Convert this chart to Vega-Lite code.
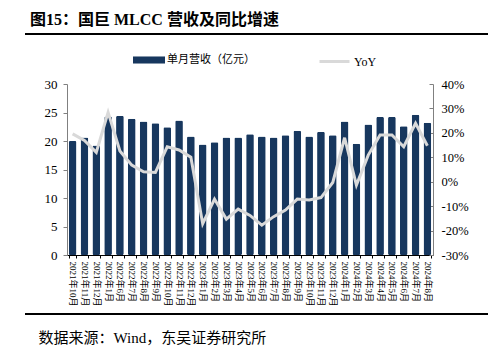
{
  "$schema": "https://vega.github.io/schema/vega-lite/v6.json",
  "width": 463,
  "height": 280,
  "autosize": {"type": "none"},
  "padding": {"left": 25, "top": 34, "right": 0, "bottom": 35},
  "background": "white",
  "title": {
    "text": "图15：国巨 MLCC 营收及同比增速",
    "anchor": "start",
    "dx": 10,
    "offset": 5,
    "font": "'Liberation Serif', 'Noto Sans CJK SC'",
    "fontSize": 16,
    "fontWeight": "bold",
    "color": "#000000"
  },
  "config": {
    "view": {"stroke": null},
    "axis": {"grid": false}
  },
  "data": {
    "values": [
      {"month": "2021年10月", "revenue": 20.0, "yoy": 19.6},
      {"month": "2021年11月", "revenue": 20.6, "yoy": 16.9},
      {"month": "2021年12月", "revenue": 19.2, "yoy": 12.0},
      {"month": "2022年1月", "revenue": 24.3, "yoy": 28.4},
      {"month": "2022年6月", "revenue": 24.4, "yoy": 12.6},
      {"month": "2022年7月", "revenue": 23.9, "yoy": 6.8},
      {"month": "2022年8月", "revenue": 23.4, "yoy": 4.1},
      {"month": "2022年9月", "revenue": 23.1, "yoy": 3.8},
      {"month": "2022年10月", "revenue": 22.4, "yoy": 14.3},
      {"month": "2022年11月", "revenue": 23.6, "yoy": 13.0},
      {"month": "2022年12月", "revenue": 20.8, "yoy": 10.0},
      {"month": "2023年1月", "revenue": 19.4, "yoy": -17.2},
      {"month": "2023年2月", "revenue": 19.8, "yoy": -7.1},
      {"month": "2023年3月", "revenue": 20.6, "yoy": -15.3},
      {"month": "2023年4月", "revenue": 20.6, "yoy": -11.2},
      {"month": "2023年5月", "revenue": 21.2, "yoy": -13.8},
      {"month": "2023年6月", "revenue": 20.8, "yoy": -17.8},
      {"month": "2023年7月", "revenue": 20.6, "yoy": -14.3},
      {"month": "2023年8月", "revenue": 21.0, "yoy": -11.6},
      {"month": "2023年9月", "revenue": 21.8, "yoy": -7.1},
      {"month": "2023年10月", "revenue": 20.8, "yoy": -7.5},
      {"month": "2023年11月", "revenue": 21.6, "yoy": -6.5},
      {"month": "2023年12月", "revenue": 21.0, "yoy": -0.3},
      {"month": "2024年1月", "revenue": 23.4, "yoy": 18.0},
      {"month": "2024年2月", "revenue": 19.5, "yoy": -1.4},
      {"month": "2024年3月", "revenue": 22.9, "yoy": 10.9},
      {"month": "2024年4月", "revenue": 24.2, "yoy": 19.1},
      {"month": "2024年5月", "revenue": 24.2, "yoy": 19.1},
      {"month": "2024年6月", "revenue": 22.6, "yoy": 14.3},
      {"month": "2024年7月", "revenue": 24.6, "yoy": 23.9},
      {"month": "2024年8月", "revenue": 23.2, "yoy": 14.7}
    ]
  },
  "layer": [
    {
      "mark": {"type": "bar", "cornerRadius": 1.5},
      "encoding": {
        "x": {
          "field": "month",
          "type": "ordinal",
          "sort": null,
          "scale": {"range": [42, 408], "paddingInner": 0.35, "paddingOuter": 0.15},
          "axis": {
            "orient": "bottom",
            "offset": -59,
            "title": "数据来源：Wind，东吴证券研究所",
            "titleX": 13,
            "titleY": 82,
            "titleAlign": "left",
            "titleBaseline": "middle",
            "titleFont": "'Liberation Serif', 'Noto Sans CJK SC'",
            "titleFontSize": 15,
            "titleFontWeight": "normal",
            "titleColor": "#000000",
            "labelAngle": 90,
            "labelFont": "'Liberation Serif', 'Noto Sans CJK SC'",
            "labelFontSize": 9,
            "labelPadding": 3,
            "labelColor": "#000000",
            "labelOverlap": false,
            "domainColor": "#000000",
            "domainWidth": 1,
            "tickColor": "#000000",
            "tickSize": 3,
            "tickBand": "extent"
          }
        },
        "y": {
          "field": "revenue",
          "type": "quantitative",
          "scale": {"domain": [0, 30], "range": [221, 50], "nice": false},
          "axis": {
            "orient": "left",
            "offset": -42,
            "values": [0, 5, 10, 15, 20, 25, 30],
            "title": null,
            "labelFont": "'Liberation Serif'",
            "labelFontSize": 13,
            "labelColor": "#000000",
            "labelPadding": 6,
            "tickSize": 4,
            "tickColor": "#808080",
            "domainColor": "#808080"
          }
        },
        "color": {
          "datum": "单月营收（亿元）",
          "scale": {"range": ["#17375e"]},
          "legend": {
            "orient": "none",
            "legendX": 108,
            "legendY": 10,
            "title": null,
            "padding": 0,
            "symbolType": "M-1,-0.22L1,-0.22L1,0.22L-1,0.22Z",
            "symbolSize": 1024,
            "symbolStrokeWidth": 0,
            "labelFont": "'Noto Sans CJK SC'",
            "labelFontSize": 11,
            "labelOffset": 2,
            "labelColor": "#000000"
          }
        }
      }
    },
    {
      "mark": {"type": "line", "strokeWidth": 3},
      "encoding": {
        "x": {"field": "month", "type": "ordinal", "sort": null},
        "y": {
          "field": "yoy",
          "type": "quantitative",
          "scale": {"domain": [-30, 40], "range": [221, 50], "nice": false},
          "axis": {
            "orient": "right",
            "offset": -55,
            "values": [-30, -20, -10, 0, 10, 20, 30, 40],
            "labelExpr": "datum.value + '%'",
            "title": null,
            "labelFont": "'Liberation Serif'",
            "labelFontSize": 12.5,
            "labelColor": "#000000",
            "labelPadding": 12,
            "tickSize": -4,
            "tickColor": "#808080",
            "domainColor": "#808080"
          }
        },
        "stroke": {
          "datum": "YoY",
          "scale": {"range": ["#d9d9d9"]},
          "legend": {
            "orient": "none",
            "legendX": 293,
            "legendY": 11,
            "title": null,
            "padding": 0,
            "symbolType": "M-1,0L1,0",
            "symbolSize": 900,
            "symbolStrokeWidth": 3,
            "labelFont": "'Liberation Serif'",
            "labelFontSize": 12,
            "labelOffset": 3,
            "labelColor": "#000000"
          }
        }
      }
    },
    {
      "mark": {"type": "rule", "strokeWidth": 1.5, "color": "#000000"},
      "encoding": {
        "y": {"datum": 1, "type": "quantitative", "scale": {"domain": [0, 1]}, "axis": null}
      }
    },
    {
      "mark": {"type": "rule", "strokeWidth": 1.5, "color": "#000000"},
      "encoding": {
        "y": {"datum": 0, "type": "quantitative", "scale": {"domain": [0, 1]}, "axis": null}
      }
    }
  ],
  "resolve": {"scale": {"y": "independent"}}
}
